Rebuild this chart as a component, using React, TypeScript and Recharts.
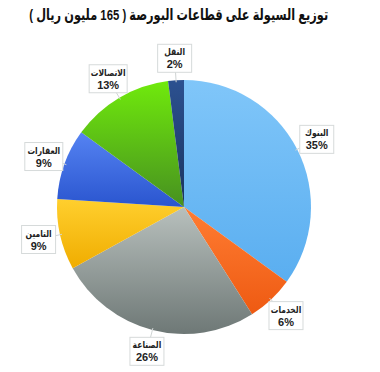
import React from 'react';
import { PieChart, Pie, Cell } from 'recharts';

const sectors = ['البنوك', 'الخدمات', 'الصناعة', 'التامين', 'العقارات', 'الاتصالات', 'النقل'];
const shares = [35, 6, 26, 9, 9, 13, 2];
const topColors = ['#80c6f9', '#ff7d33', '#b8c0bd', '#ffcf2e', '#5583f2', '#70ea0c', '#2c5190'];
const bottomColors = ['#5aaef0', '#ee5a12', '#6e7876', '#f0ad00', '#2a55cf', '#479020', '#1a335f'];

const title = 'توزيع السيولة على قطاعات البورصة ( 165 مليون ريال )';

const data = sectors.map((name, i) => ({ name, value: shares[i] }));

const RADIAN = Math.PI / 180;
const FONT = "Arial, 'Liberation Sans', 'DejaVu Sans', sans-serif";

// white callout box with a small tail pointing back at the slice
const renderCallout = (props: any) => {
  const { cx, cy, midAngle, outerRadius, index } = props;
  const r = outerRadius + 22;
  const x = cx + r * Math.cos(-midAngle * RADIAN);
  const y = cy + r * Math.sin(-midAngle * RADIAN);
  const tx = cx + (outerRadius - 2) * Math.cos(-midAngle * RADIAN);
  const ty = cy + (outerRadius - 2) * Math.sin(-midAngle * RADIAN);
  const w = sectors[index].length > 7 ? 38 : 34;
  const h = 28;
  return (
    <g key={`callout-${index}`}>
      <line x1={tx} y1={ty} x2={x} y2={y} stroke="#cfd4d4" strokeWidth={1} />
      <rect x={x - w / 2} y={y - h / 2} width={w} height={h} fill="#fff" stroke="#d6dada" strokeWidth={1} />
      <g transform={`translate(${x},${y}) scale(0.8,1)`}>
        <text x={0} y={-3} textAnchor="middle" fontSize={9.5} fontWeight="bold" fill="#222" fontFamily={FONT}>
          {sectors[index]}
        </text>
      </g>
      <text x={x} y={y + 10} textAnchor="middle" fontSize={11} fontWeight="bold" fill="#222" fontFamily={FONT}>
        {`${shares[index]}%`}
      </text>
    </g>
  );
};

export default function App() {
  return (
    <div style={{ position: 'absolute', left: 0, top: 0, width: 380, height: 372, background: '#fff' }}>
      <div
        dir="rtl"
        style={{
          position: 'absolute',
          top: 6,
          left: 0,
          width: 380,
          textAlign: 'center',
          whiteSpace: 'nowrap',
          fontFamily: FONT,
          fontWeight: 'bold',
          fontSize: 15.5,
          color: '#111',
          transform: 'scaleX(0.73)',
          transformOrigin: '188px 0',
        }}
      >
        {title}
      </div>
      <PieChart width={380} height={372} margin={{ top: 0, right: 0, bottom: 0, left: 0 }}>
        <defs>
          {sectors.map((s, i) => (
            <linearGradient key={s} id={`slice${i}`} x1="0" y1="0" x2="0" y2="1">
              <stop offset="0%" stopColor={topColors[i]} />
              <stop offset="100%" stopColor={bottomColors[i]} />
            </linearGradient>
          ))}
        </defs>
        <Pie
          data={data}
          dataKey="value"
          nameKey="name"
          cx={184}
          cy={207}
          outerRadius={127}
          startAngle={90}
          endAngle={-270}
          stroke="none"
          label={renderCallout}
          labelLine={false}
          isAnimationActive={false}
        >
          {data.map((d, i) => (
            <Cell key={d.name} fill={`url(#slice${i})`} />
          ))}
        </Pie>
      </PieChart>
    </div>
  );
}
